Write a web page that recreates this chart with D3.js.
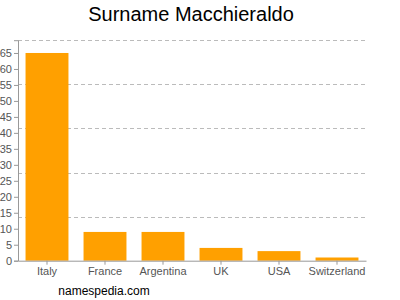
<!DOCTYPE html>
<html>
<head>
<meta charset="utf-8">
<script src="https://cdn.jsdelivr.net/npm/d3@7"></script>
<style>
  body { margin: 0; background: #fff; }
  text { font-family: "Liberation Sans", Arial, sans-serif; }
</style>
</head>
<body>
<svg id="chart" width="400" height="300"></svg>
<script>
// counts per country
const countries = ["Italy", "France", "Argentina", "UK", "USA", "Switzerland"];
const counts = [65, 9, 9, 4, 3, 1];
const yTicks = [0, 5, 10, 15, 20, 25, 30, 35, 40, 45, 50, 55, 60, 65];
const yMax = 69;
const gridCount = 5;

const svg = d3.select("#chart");

const plotLeft = 18, plotRight = 366, plotTop = 40.2, plotBottom = 260.7;

const x = d3.scaleBand()
  .domain(countries)
  .range([plotLeft, plotRight])
  .paddingInner(0.26)
  .paddingOuter(0.13);

const y = d3.scaleLinear()
  .domain([0, yMax])
  .range([plotBottom, plotTop]);

// dashed grid lines, evenly splitting the value range
const gridValues = d3.range(1, gridCount + 1).map(i => yMax * i / gridCount);

svg.append("g")
  .selectAll("line")
  .data(gridValues)
  .enter()
  .append("line")
  .attr("x1", plotLeft)
  .attr("x2", plotRight)
  .attr("y1", d => Math.round(y(d)) + 0.5)
  .attr("y2", d => Math.round(y(d)) + 0.5)
  .attr("stroke", "#bbb")
  .attr("stroke-dasharray", "4,3");

// bars
svg.append("g")
  .selectAll("rect")
  .data(countries)
  .enter()
  .append("rect")
  .attr("x", d => x(d))
  .attr("width", x.bandwidth())
  .attr("y", (d, i) => y(counts[i]))
  .attr("height", (d, i) => y(0) - y(counts[i]))
  .attr("fill", "#ffa000");

// y axis
const yAxis = svg.append("g")
  .attr("transform", "translate(" + plotLeft + ",0)")
  .call(d3.axisLeft(y).tickValues(yTicks).tickSize(4).tickPadding(2));

yAxis.select(".domain").attr("stroke", "#999");
yAxis.selectAll(".tick line").attr("stroke", "#999");
yAxis.selectAll(".tick text")
  .attr("fill", "#555")
  .style("font-size", "11px");

// x axis
const xAxis = svg.append("g")
  .attr("transform", "translate(0," + plotBottom + ")")
  .call(d3.axisBottom(x).tickSize(4).tickSizeOuter(0).tickPadding(3));

xAxis.select(".domain").attr("stroke", "#999");
xAxis.selectAll(".tick line").attr("stroke", "#999");
xAxis.selectAll(".tick text")
  .attr("fill", "#555")
  .style("font-size", "11px");

// title and source
svg.append("text")
  .attr("x", 191)
  .attr("y", 21)
  .attr("text-anchor", "middle")
  .style("font-size", "20px")
  .attr("fill", "#000")
  .text("Surname Macchieraldo");

svg.append("text")
  .attr("x", 104)
  .attr("y", 295)
  .attr("text-anchor", "middle")
  .style("font-size", "12px")
  .attr("fill", "#000")
  .text("namespedia.com");
</script>
</body>
</html>
